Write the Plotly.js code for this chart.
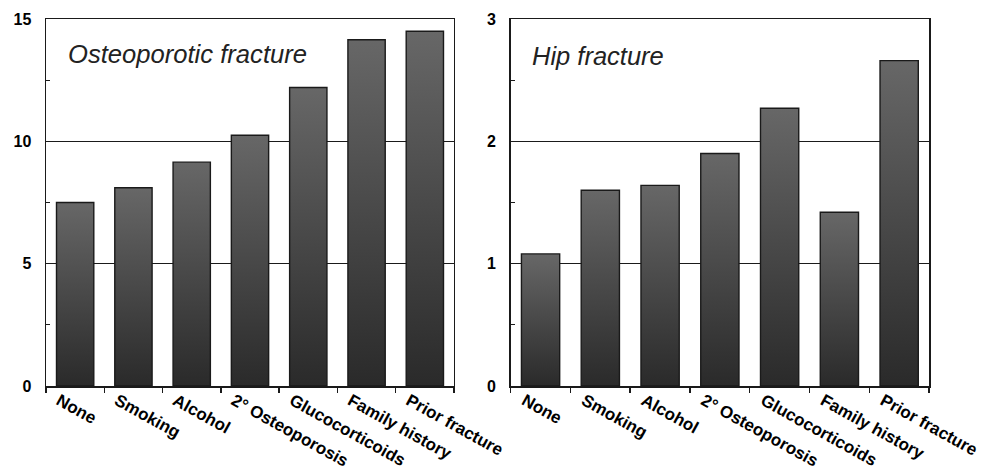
<!DOCTYPE html>
<html>
<head>
<meta charset="utf-8">
<script src="https://cdn.plot.ly/plotly-3.0.1.min.js"></script>
<style>
html,body{margin:0;padding:0;background:#fff;}
#chart{width:998px;height:470px;}
</style>
</head>
<body>
<div id="chart"></div>
<script>
var categories = ["None", "Smoking", "Alcohol", "2\u00b0 Osteoporosis", "Glucocorticoids", "Family history", "Prior fracture"];
var osteoporoticValues = [7.5, 8.1, 9.15, 10.25, 12.2, 14.15, 14.5];
var hipValues = [1.08, 1.6, 1.64, 1.9, 2.27, 1.42, 2.66];
var leftTicks = [0, 5, 10, 15];
var leftMinor = [2.5, 7.5, 12.5];
var rightTicks = [0, 1, 2, 3];
var rightMinor = [0.5, 1.5, 2.5];
var panelTitles = ["Osteoporotic fracture", "Hip fracture"];

var FONT = '"Liberation Sans", Arial, Helvetica, sans-serif';
var INK = '#1a1a1a';

var traces = [
  {type: 'bar', x: categories, y: osteoporoticValues, xaxis: 'x', yaxis: 'y',
   width: 0.64, marker: {color: '#4a4a4a', line: {color: INK, width: 1.4}}, hoverinfo: 'x+y'},
  {type: 'bar', x: categories, y: hipValues, xaxis: 'x2', yaxis: 'y2',
   width: 0.64, marker: {color: '#4a4a4a', line: {color: INK, width: 1.4}}, hoverinfo: 'x+y'}
];

function xAxis(domain, anchor) {
  return {
    domain: domain, anchor: anchor, type: 'category', range: [-0.5, 6.5],
    showline: true, mirror: true, linecolor: INK, linewidth: 1.5,
    ticks: 'outside', tickson: 'boundaries', ticklen: 5, tickwidth: 1.5, tickcolor: INK,
    tickangle: 29, ticklabelshift: -16, ticklabelstandoff: -3,
    tickfont: {family: FONT, size: 17, weight: 'bold', color: '#000'},
    showgrid: false, zeroline: false, fixedrange: true
  };
}
function yAxis(range, ticks, minor, anchor) {
  return {
    domain: [0, 1], anchor: anchor, range: range, tickvals: ticks,
    showline: true, mirror: true, linecolor: INK, linewidth: 1.5,
    ticks: '', ticklabelstandoff: 10,
    tickfont: {family: FONT, size: 16, weight: 'bold', color: '#000'},
    showgrid: true, gridcolor: INK, gridwidth: 1.4, zeroline: false,
    minor: {tickvals: minor, ticks: 'inside', ticklen: 4, tickwidth: 1.3, tickcolor: INK, showgrid: false},
    fixedrange: true
  };
}

var layout = {
  width: 998, height: 470,
  margin: {l: 0, r: 0, t: 19, b: 84},
  paper_bgcolor: '#fff', plot_bgcolor: '#fff',
  showlegend: false,
  xaxis: xAxis([0.0461, 0.4549], 'y'),
  yaxis: yAxis([0, 15], leftTicks, leftMinor, 'x'),
  xaxis2: xAxis([0.5117, 0.9309], 'y2'),
  yaxis2: yAxis([0, 3], rightTicks, rightMinor, 'x2'),
  annotations: [
    {text: panelTitles[0], xref: 'x domain', yref: 'y domain', x: 0.048, y: 0.905,
     xanchor: 'left', yanchor: 'middle', showarrow: false,
     font: {family: FONT, size: 25.6, style: 'italic', color: '#222'}},
    {text: panelTitles[1], xref: 'x2 domain', yref: 'y2 domain', x: 0.045, y: 0.9,
     xanchor: 'left', yanchor: 'middle', showarrow: false,
     font: {family: FONT, size: 25.5, style: 'italic', color: '#222'}}
  ]
};

Plotly.newPlot('chart', traces, layout, {displayModeBar: false, staticPlot: true}).then(function (gd) {
  var svg = gd.querySelector('svg.main-svg');
  var ns = 'http://www.w3.org/2000/svg';
  var defs = svg.querySelector('defs') || svg.insertBefore(document.createElementNS(ns, 'defs'), svg.firstChild);
  var grad = document.createElementNS(ns, 'linearGradient');
  grad.setAttribute('id', 'barShade');
  grad.setAttribute('x1', '0'); grad.setAttribute('y1', '0');
  grad.setAttribute('x2', '0'); grad.setAttribute('y2', '1');
  [['0%', '#676767'], ['100%', '#2a2a2a']].forEach(function (s) {
    var st = document.createElementNS(ns, 'stop');
    st.setAttribute('offset', s[0]); st.setAttribute('stop-color', s[1]);
    grad.appendChild(st);
  });
  defs.appendChild(grad);
  gd.querySelectorAll('.bars .point path').forEach(function (p) {
    p.style.fill = 'url(#barShade)';
  });
});
</script>
</body>
</html>
